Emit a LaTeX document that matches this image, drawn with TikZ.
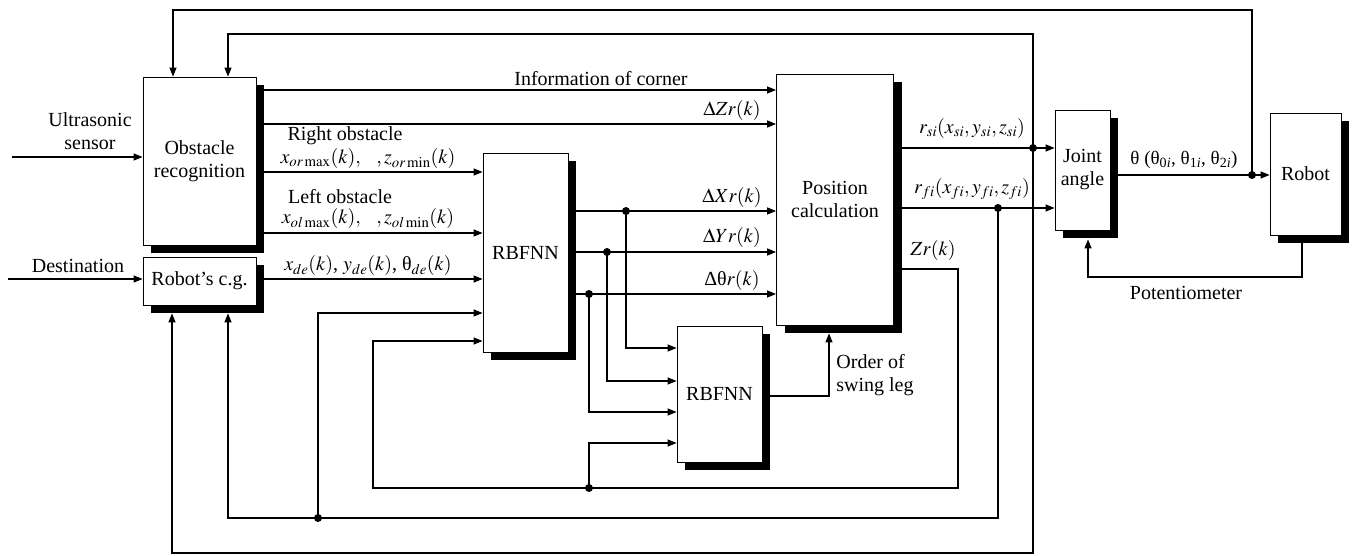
\documentclass[tikz,border=0pt]{standalone}
\usepackage{mathptmx}
\usepackage{fontspec}
\setmainfont{Liberation Serif}
\usetikzlibrary{arrows.meta,shadows}

\begin{document}
\begin{tikzpicture}[x=1pt,y=-1pt,line width=1.2pt,
  every node/.style={font=\fontsize{20}{23}\selectfont},
  blk/.style={draw,line width=0.8pt,fill=white,align=center,inner sep=0pt,
    drop shadow={shadow xshift=8pt,shadow yshift=-8pt,fill=black,opacity=1}},
  arr/.style={-{Triangle[length=9pt,width=7pt]}},
  dot/.style={circle,fill=black,inner sep=0pt,minimum size=8pt}]
\useasboundingbox (0,0) rectangle (1358,556);
\node[blk,minimum width=113,minimum height=168] (obs) at (199.5,161) {Obstacle\\recognition};
\node[blk,minimum width=113,minimum height=48] (cg) at (199.5,281) {Robot's c.g.};
\node[blk,minimum width=85,minimum height=199] (rbf1) at (525.5,252.5) {RBFNN};
\node[blk,minimum width=117,minimum height=251] (pos) at (835,199.5) {Position\\calculation};
\node[blk,minimum width=85,minimum height=136] (rbf2) at (719.5,394) {RBFNN};
\node[blk,minimum width=55,minimum height=120] (joint) at (1082.5,170) {Joint\\angle};
\node[blk,minimum width=71,minimum height=122] (robot) at (1305.5,174) {Robot};
\coordinate (us) at (12,157);
\coordinate (dst) at (8,279);
\node[align=center] (uslbl) at (90,131) {Ultrasonic\\sensor};
\node (dstlbl) at (78,266) {Destination};
\draw[arr] (us) -- (obs.west |- us);
\draw[arr] (dst) -- (cg.west |- dst);
\draw[arr] (obs.east |- 0,90) -- (pos.west |- 0,90);
\draw[arr] (obs.east |- 0,124) -- (pos.west |- 0,124);
\draw[arr] (obs.east |- 0,172) -- (rbf1.west |- 0,172);
\draw[arr] (obs.east |- 0,233) -- (rbf1.west |- 0,233);
\draw[arr] (cg.east |- 0,279) -- (rbf1.west |- 0,279);
\node (info) at (601,79) {Information of corner};
\node (dzl) at (732,111) {$\Delta Zr(k)$};
\node (rol) at (345,136) {Right obstacle};
\node (rox) at (368,159) {$x_{or\max}(k),\;\;\;, z_{or\min}(k)$};
\node (lol) at (340,197) {Left obstacle};
\node (lox) at (368,219) {$x_{ol\max}(k),\;\;\;, z_{ol\min}(k)$};
\node (del) at (368,266) {$x_{de}(k)$, $y_{de}(k)$, θ$_{de}(k)$};
\coordinate (dX) at (626,211);
\coordinate (dY) at (607,252);
\coordinate (dT) at (589,294);
\draw[arr] (rbf1.east |- dX) -- (pos.west |- dX);
\draw[arr] (rbf1.east |- dY) -- (pos.west |- dY);
\draw[arr] (rbf1.east |- dT) -- (pos.west |- dT);
\node (dxl) at (732,198) {$\Delta Xr(k)$};
\node (dyl) at (732,238) {$\Delta Yr(k)$};
\node (dtl) at (732,280) {Δθ$r(k)$};
\draw[arr] (dX) |- (rbf2.west |- 0,348);
\draw[arr] (dY) |- (rbf2.west |- 0,381);
\draw[arr] (dT) |- (rbf2.west |- 0,412);
\coordinate (zd) at (589,488);
\draw[arr] (pos.east |- 0,269) -| (958,488) -| (373,341) -- (rbf1.west |- 0,341);
\draw[arr] (zd) |- (rbf2.west |- 0,443);
\node (zrl) at (933,250) {$Zr(k)$};
\draw[arr] (rbf2.east |- 0,396) -| ([yshift=-8pt]pos.south -| 829,0);
\node[align=left] (ordl) at (875,375) {Order of\\swing leg};
\coordinate (rs) at (1033,148);
\coordinate (rf) at (998,208);
\draw[arr] (pos.east |- rs) -- (joint.west |- rs);
\draw[arr] (pos.east |- rf) -- (joint.west |- rf);
\node (rsl) at (972,129) {$r_{si}(x_{si}, y_{si}, z_{si})$};
\node (rfl) at (972,189) {$r_{fi}(x_{fi}, y_{fi}, z_{fi})$};
\draw[arr] (rs) |- (228,34) -- (obs.north -| 228,0);
\draw[arr] (rs) |- (172,553) -- ([yshift=-8pt]cg.south -| 172,0);
\coordinate (rfd) at (318,518);
\draw[arr] (rf) |- (228,518) -- ([yshift=-8pt]cg.south -| 228,0);
\draw[arr] (rfd) |- (rbf1.west |- 0,313);
\coordinate (th) at (1252,175);
\draw[arr] (joint.east |- th) -- (robot.west |- th);
\node[font=\fontsize{19}{22}\selectfont] (thl) at (1184,160) {θ (θ\textsubscript{0\textit{i}}, θ\textsubscript{1\textit{i}}, θ\textsubscript{2\textit{i}})};
\draw[arr] (th) |- (173,10) -- (obs.north -| 173,0);
\draw[arr] ([yshift=-8pt]robot.south -| 1302,0) |- (1088,277) -- ([yshift=-9pt]joint.south -| 1088,0);
\node (potl) at (1186,293) {Potentiometer};
\foreach \p in {dX,dY,dT,zd,rs,rf,rfd,th} \node[dot] at (\p) {};
\end{tikzpicture}
\end{document}
